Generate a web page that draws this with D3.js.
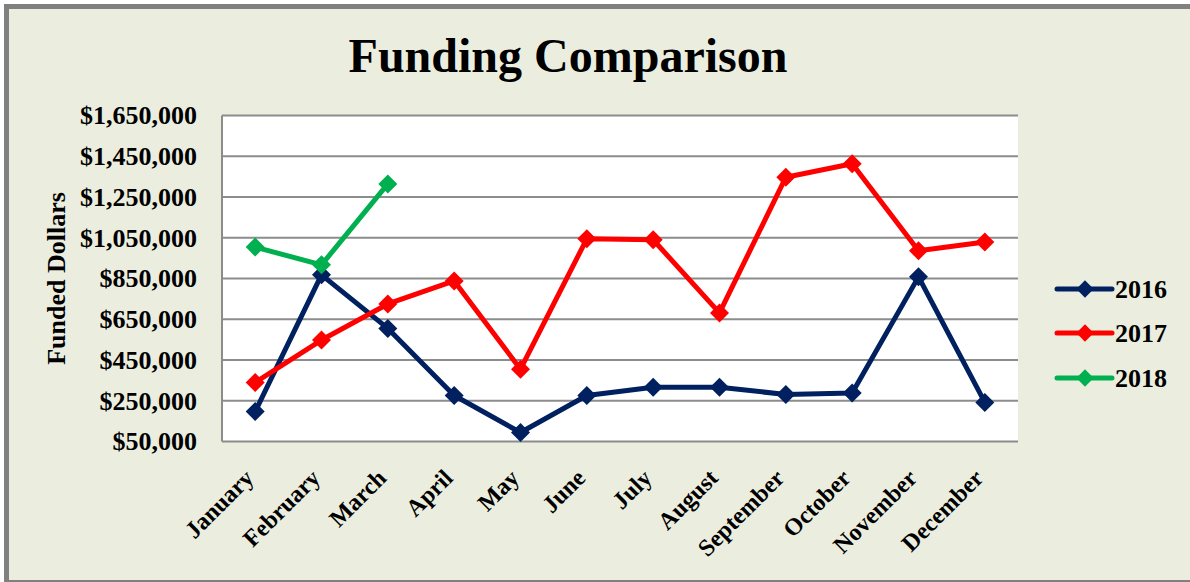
<!DOCTYPE html>
<html lang="en">
  <head>
    <meta charset="UTF-8" />
    <title>Funding Comparison</title>
    <script src="https://d3js.org/d3.v7.min.js"></script>
    <style>
      body { margin: 0; background: #fff; overflow: hidden; }
      text { font-family: "Liberation Serif", "Times New Roman", serif; font-weight: bold; }
    </style>
  </head>
  <body>
    <div id="chart"></div>
    <script>
      // data
      var months = ["January", "February", "March", "April", "May", "June",
        "July", "August", "September", "October", "November", "December"];
      var years = ["2016", "2017", "2018"];
      var values2016 = [197000, 868000, 605000, 276000, 94000, 276000, 316000, 316000, 281000, 288000, 858000, 242000];
      var values2017 = [340000, 548000, 725000, 838000, 405000, 1045000, 1040000, 681000, 1347000, 1413000, 986000, 1029000];
      var values2018 = [1004000, 917000, 1314000];
      var yTicks = [50000, 250000, 450000, 650000, 850000, 1050000, 1250000, 1450000, 1650000];
      var colors = ["#002060", "#FF0000", "#00B050"];

      var width = 1190, height = 582;
      var plot = { left: 222, right: 1018, top: 115.5, bottom: 441.5 };

      var svg = d3.select("#chart").append("svg")
        .attr("width", width)
        .attr("height", height);

      // outer panel (right edge is cut off in the original)
      svg.append("rect")
        .attr("x", 6.5).attr("y", 6.5)
        .attr("width", width + 20).attr("height", 576)
        .attr("fill", "#EBEEDF")
        .attr("stroke", "#808080")
        .attr("stroke-width", 5);

      var x = d3.scaleBand().domain(months).range([plot.left, plot.right]);
      var y = d3.scaleLinear().domain([50000, 1650000]).range([plot.bottom, plot.top]);

      // plot area
      svg.append("rect")
        .attr("x", plot.left).attr("y", plot.top)
        .attr("width", plot.right - plot.left).attr("height", plot.bottom - plot.top)
        .attr("fill", "#fff");

      // gridlines
      svg.append("g").selectAll("line")
        .data(yTicks.slice(1))
        .join("line")
        .attr("x1", plot.left).attr("x2", plot.right)
        .attr("y1", d => y(d)).attr("y2", d => y(d))
        .attr("stroke", "#8c8c8c")
        .attr("stroke-width", 2);

      // axis lines
      svg.append("line")
        .attr("x1", plot.left).attr("x2", plot.left)
        .attr("y1", plot.top).attr("y2", plot.bottom)
        .attr("stroke", "#8c8c8c").attr("stroke-width", 2);
      svg.append("line")
        .attr("x1", plot.left).attr("x2", plot.right)
        .attr("y1", plot.bottom).attr("y2", plot.bottom)
        .attr("stroke", "#8c8c8c").attr("stroke-width", 2);

      // y axis
      var fmt = d3.format("$,");
      var gY = svg.append("g")
        .attr("transform", "translate(" + plot.left + ",0)")
        .call(d3.axisLeft(y).tickValues(yTicks).tickFormat(fmt).tickSize(0).tickPadding(25));
      gY.select(".domain").remove();
      gY.selectAll("text")
        .attr("font-size", 26)
        .attr("fill", "#000");

      // x axis
      var gX = svg.append("g")
        .attr("transform", "translate(0," + plot.bottom + ")")
        .call(d3.axisBottom(x).tickSize(0).tickPadding(0));
      gX.select(".domain").remove();
      gX.selectAll("text")
        .attr("font-size", 24)
        .attr("fill", "#000")
        .attr("text-anchor", "end")
        .attr("y", 0)
        .attr("dy", "0.35em")
        .attr("transform", "translate(-6,32) rotate(-45)");

      // axis title
      svg.append("text")
        .attr("transform", "translate(65,278.5) rotate(-90)")
        .attr("text-anchor", "middle")
        .attr("font-size", 26)
        .text("Funded Dollars");

      // title
      svg.append("text")
        .attr("x", 568).attr("y", 72)
        .attr("text-anchor", "middle")
        .attr("font-size", 48)
        .text("Funding Comparison");

      var series = [values2016, values2017, values2018];
      var line = d3.line()
        .x((d, i) => x(months[i]) + x.bandwidth() / 2)
        .y(d => y(d));
      var diamond = d3.symbol().type(d3.symbolDiamond2).size(230);

      series.forEach(function(vals, s) {
        svg.append("path")
          .attr("d", line(vals))
          .attr("fill", "none")
          .attr("stroke", colors[s])
          .attr("stroke-width", 5)
          .attr("stroke-linejoin", "round");
        svg.append("g").selectAll("path")
          .data(vals)
          .join("path")
          .attr("d", diamond)
          .attr("transform", (d, i) => "translate(" + (x(months[i]) + x.bandwidth() / 2) + "," + y(d) + ")")
          .attr("fill", colors[s]);
      });

      // legend
      var legendY = [289, 333, 378];
      years.forEach(function(yr, i) {
        var g = svg.append("g").attr("transform", "translate(1057," + legendY[i] + ")");
        g.append("line")
          .attr("x1", 0).attr("x2", 55)
          .attr("stroke", colors[i]).attr("stroke-width", 5)
          .attr("stroke-linecap", "round");
        g.append("path")
          .attr("d", d3.symbol().type(d3.symbolDiamond2).size(190))
          .attr("transform", "translate(28,0)")
          .attr("fill", colors[i]);
        g.append("text")
          .attr("x", 58).attr("y", 9)
          .attr("font-size", 26)
          .text(yr);
      });
    </script>
  </body>
</html>
